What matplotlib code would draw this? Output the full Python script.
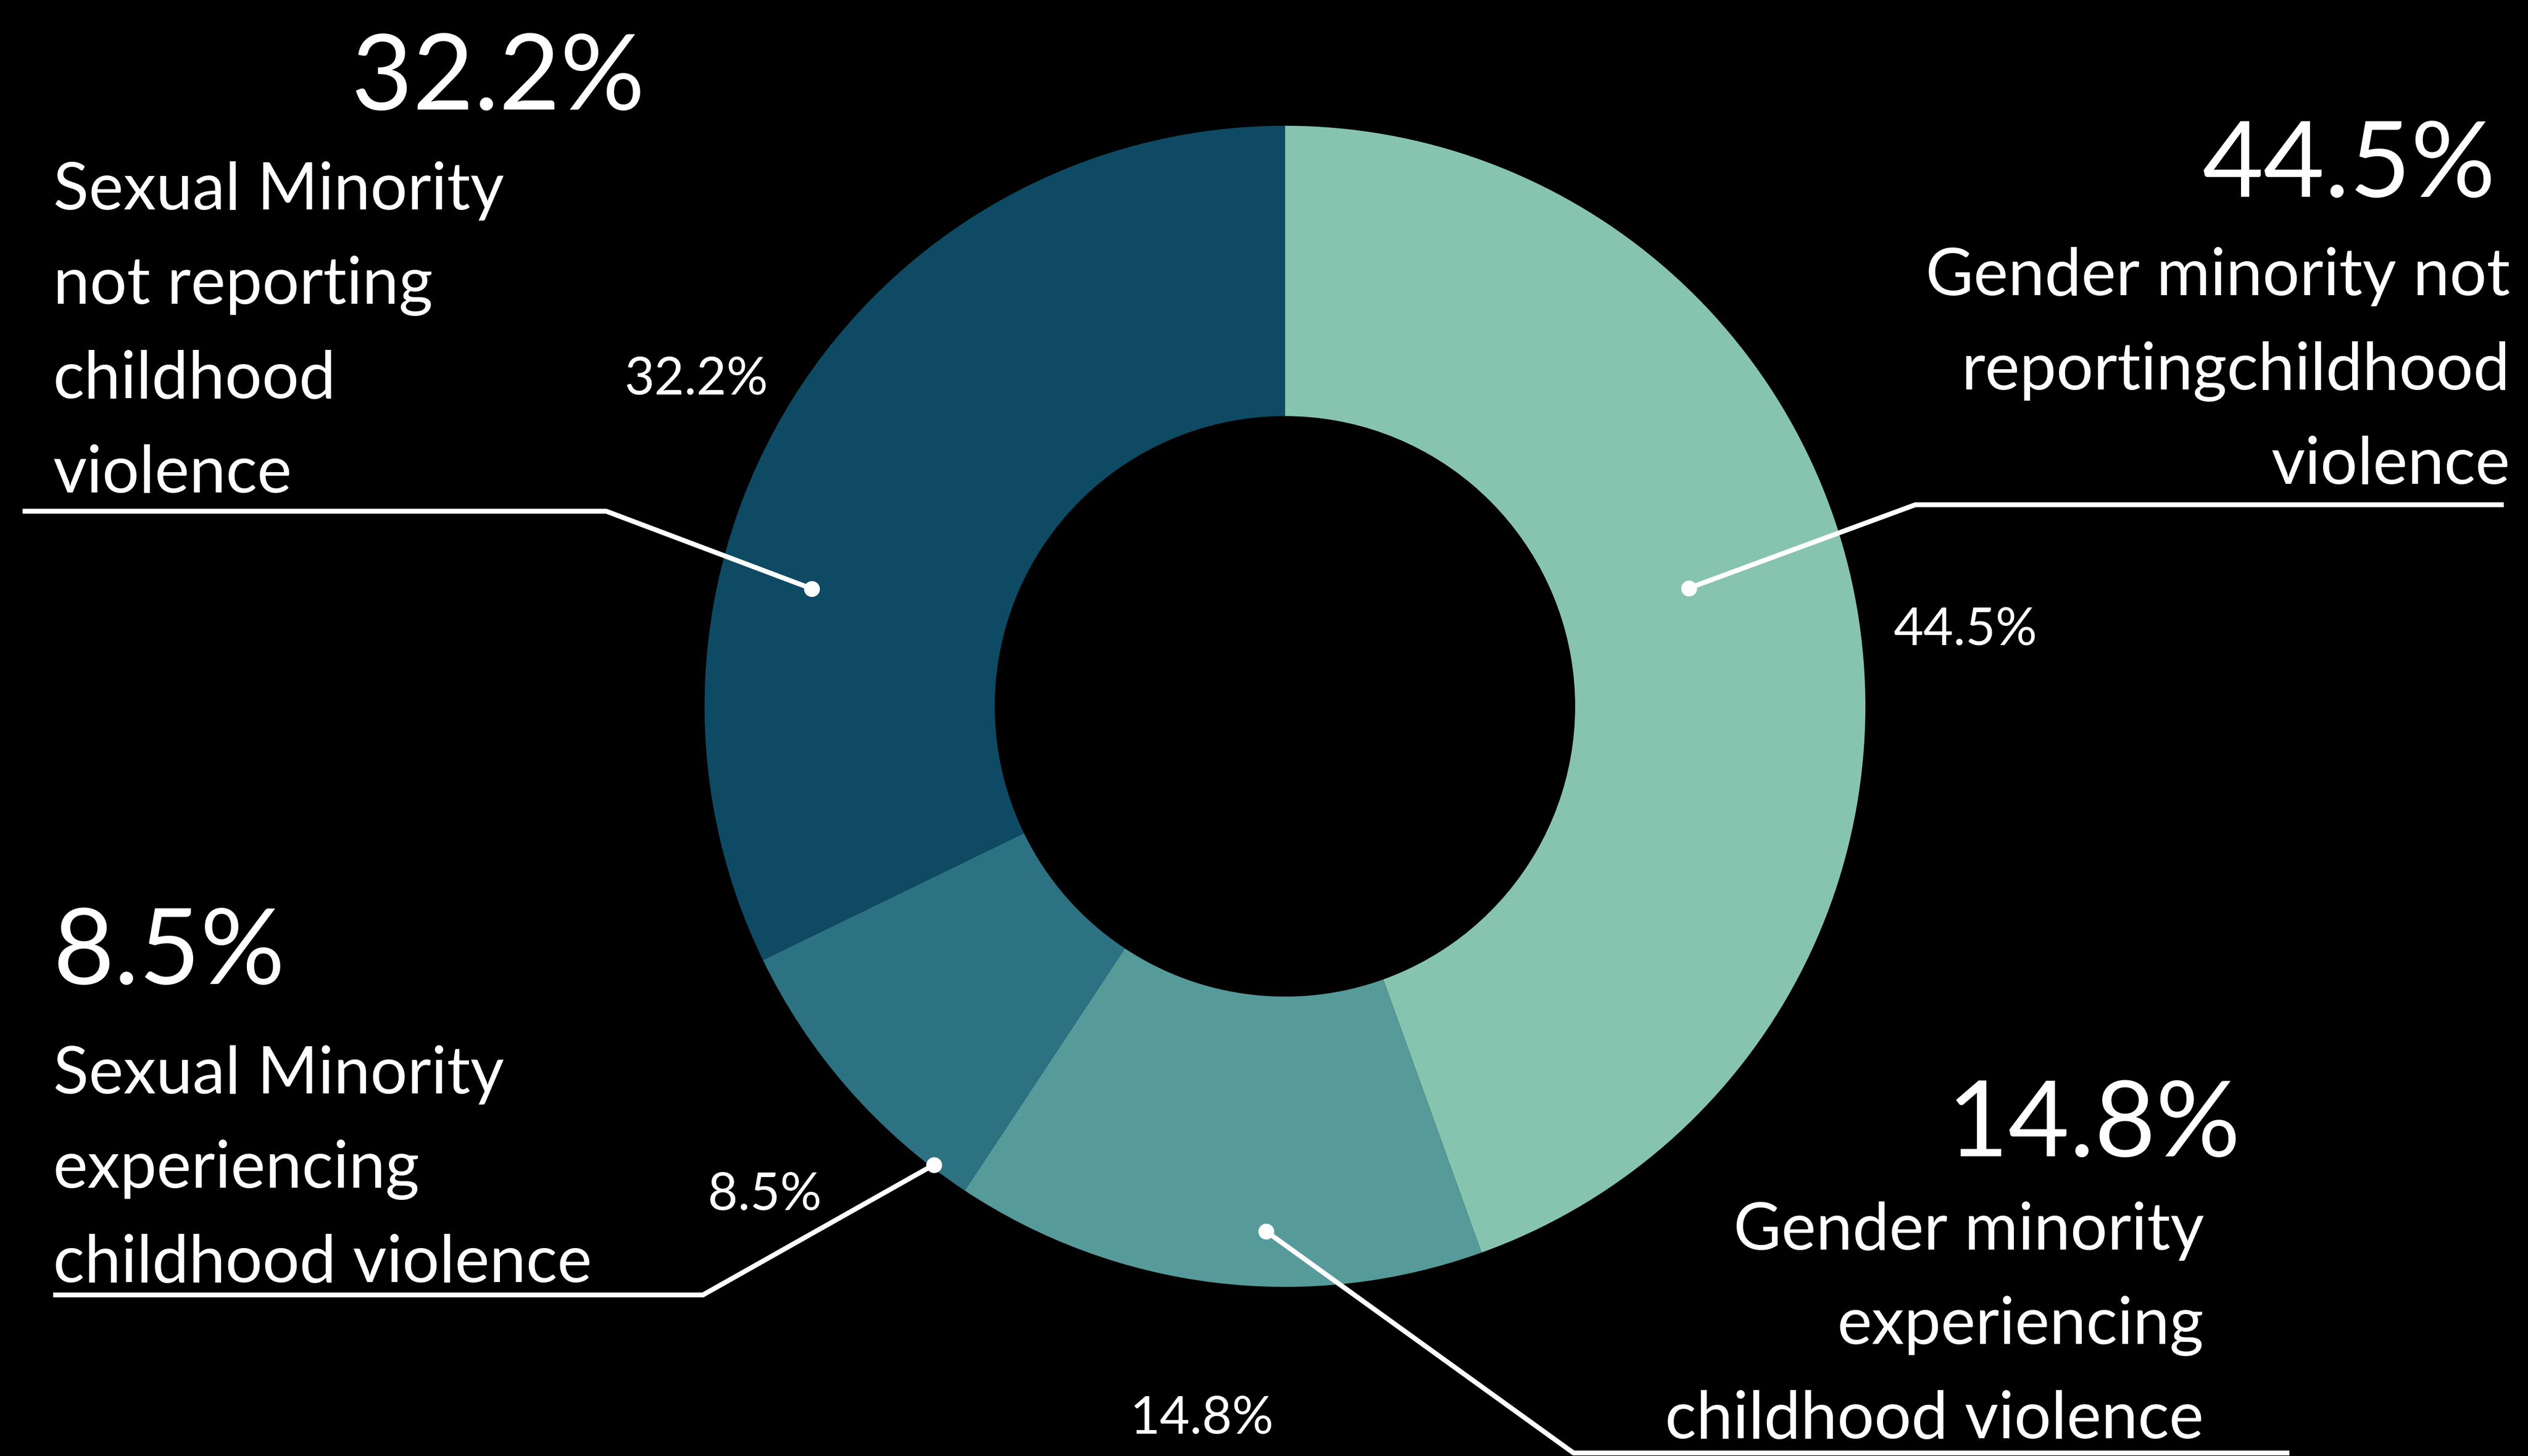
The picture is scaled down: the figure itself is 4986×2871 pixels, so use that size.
import matplotlib.pyplot as plt
import numpy as np

W, H = 4986, 2871
S = W / 1568  # reference layout was measured on a 1568 px wide copy

# data
values = [44.5, 14.8, 8.5, 32.2]
pct_labels = ['44.5%', '14.8%', '8.5%', '32.2%']
names = [
    ['Gender minority not', 'reportingchildhood', 'violence'],
    ['Gender minority', 'experiencing', 'childhood violence'],
    ['Sexual Minority', 'experiencing', 'childhood violence'],
    ['Sexual Minority', 'not reporting', 'childhood', 'violence'],
]
colors = ['#87c4af', '#569a9a', '#2d7283', '#0e4a63']

FONT = 'Lato'


def P(x, y):
    # layout coords (1568 wide, y down) -> data coords
    return x * S, H - y * S


fig = plt.figure(figsize=(W / 300, H / 300), dpi=300, facecolor='black')
ax = fig.add_axes([0, 0, 1, 1])
ax.set_facecolor('black')

cx, cy = P(797, 438)
R = 360 * S
wedges, _ = ax.pie(values, colors=colors, startangle=90, counterclock=False,
                   center=(cx, cy), radius=R,
                   wedgeprops=dict(width=0.5 * R, linewidth=0))
ax.set_xlim(0, W)
ax.set_ylim(0, H)
ax.set_aspect('equal')
ax.axis('off')

# where the leader dot sits inside each wedge (fraction along arc, fraction of radius)
dot_pos = [(0.54, 0.725), (0.59, 0.905), (0.87, 0.995), (0.656, 0.84)]
# elbow and end of each leader line
leaders = [
    [(1188, 313), (1553, 313)],
    [(976, 901), (1420, 901)],
    [(436, 803), (33, 803)],
    [(376, 317), (14, 317)],
]
# small percentage labels outside ring: (radius factor, angle shift)
small_pos = [(1.18, -3.5), (1.235, 0.2), (1.23, 2.0), (1.16, 3.0)]
# big number (x, baseline, ha) and text block (x, first baseline, ha)
big_pos = [(1548, 122, 'right'), (1390, 717, 'right'), (33, 610, 'left'), (309, 68, 'center')]
block_pos = [(1557, 183, 'right'), (1367, 775, 'right'), (33, 678, 'left'), (33, 130, 'left')]
step = 58.5

for i, w in enumerate(wedges):
    t1, t2 = w.theta1, w.theta2
    fa, fr = dot_pos[i]
    ang = np.radians(t1 + fa * (t2 - t1))
    dx, dy = cx + fr * R * np.cos(ang), cy + fr * R * np.sin(ang)
    pts = [(dx, dy)] + [P(*p) for p in leaders[i]]
    ax.plot([p[0] for p in pts], [p[1] for p in pts], color='white', lw=2.3,
            solid_capstyle='butt', zorder=5)
    ax.plot(dx, dy, 'o', color='white', ms=7.5, mec='none', zorder=6)

    rf, sh = small_pos[i]
    mid = np.radians((t1 + t2) / 2 + sh)
    ax.text(cx + rf * R * np.cos(mid), cy + rf * R * np.sin(mid), pct_labels[i],
            color='white', fontsize=24.5, family=FONT, ha='center', va='center')

    bx, by, bha = big_pos[i]
    ax.text(*P(bx, by), pct_labels[i], color='white', fontsize=50, family=FONT,
            ha=bha, va='baseline')
    lx, ly, lha = block_pos[i]
    for k, line in enumerate(names[i]):
        ax.text(*P(lx, ly + k * step), line, color='white', fontsize=31,
                family=FONT, ha=lha, va='baseline')

fig.savefig('out.png', dpi=300, facecolor='black')
